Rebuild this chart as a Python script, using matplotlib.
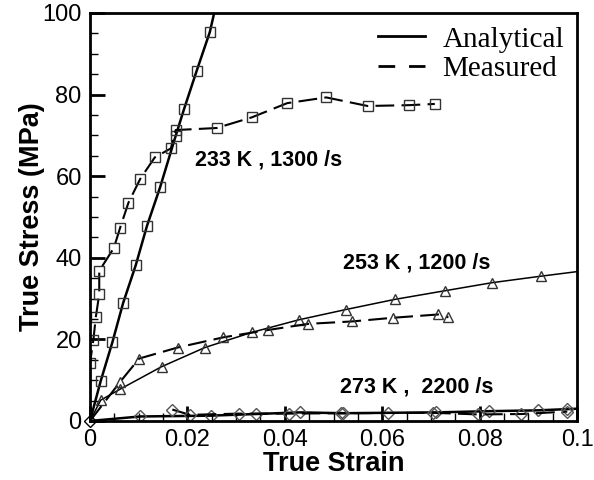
import matplotlib
matplotlib.use("Agg")
import matplotlib.pyplot as plt
from matplotlib.lines import Line2D
from matplotlib.ticker import MultipleLocator

# 233 K, 1300 /s
an233_x = [0, 0.0022, 0.0046, 0.0068, 0.0094, 0.0117, 0.0144, 0.0176, 0.0193, 0.0219, 0.0246, 0.0256]
an233_y = [0, 9.8, 19.3, 28.9, 38.2, 47.8, 57.3, 69.9, 76.4, 85.8, 95.3, 100.5]
me233_x = [0, 0, 0.0007, 0.0012, 0.0019, 0.0019, 0.0049, 0.0062, 0.0079, 0.0103, 0.0133, 0.0166,
           0.0176, 0.026, 0.0332, 0.0405, 0.0485, 0.057, 0.0655, 0.0708]
me233_y = [0, 14.2, 19.9, 25.5, 31.1, 36.8, 42.4, 47.4, 53.5, 59.3, 64.6, 66.8,
           71.3, 71.8, 74.4, 77.9, 79.3, 77.2, 77.4, 77.7]

# 253 K, 1200 /s
an253_x = [0, 0.0022, 0.0062, 0.0147, 0.0236, 0.0332, 0.0429, 0.0525, 0.0626, 0.0728, 0.0826, 0.0927, 0.1]
an253_y = [0, 5.1, 7.8, 13.3, 18.0, 21.7, 24.8, 27.3, 29.8, 31.9, 33.9, 35.5, 36.6]
me253_x = [0, 0.0062, 0.0101, 0.018, 0.0274, 0.0366, 0.0448, 0.0539, 0.0623, 0.0715, 0.0736]
me253_y = [0, 9.6, 15.3, 18.0, 20.5, 22.3, 23.8, 24.4, 25.3, 26.1, 25.4]

# 273 K, 2200 /s
an273_x = [0, 0.0103, 0.0248, 0.034, 0.0431, 0.052, 0.0612, 0.071, 0.082, 0.092, 0.0979, 0.1]
an273_y = [0, 1.1, 1.3, 1.7, 2.1, 1.9, 2.0, 2.1, 2.4, 2.6, 2.9, 3.0]
me273_x = [0.0169, 0.0205, 0.0306, 0.0408, 0.0515, 0.0705, 0.0797, 0.0886, 0.098]
me273_y = [2.8, 1.5, 1.8, 1.8, 1.9, 2.0, 1.6, 1.7, 2.3]

labels = ["233 K , 1300 /s", "253 K , 1200 /s", "273 K ,  2200 /s"]
label_pos = [(0.0215, 64), (0.052, 38.7), (0.0514, 8.3)]

plt.rcParams["font.family"] = ["Liberation Sans", "DejaVu Sans"]

fig = plt.figure(figsize=(5.94, 4.8), dpi=100)
ax = fig.add_axes([0.1515, 0.123, 0.8199, 0.850])

mk = dict(markerfacecolor="none", markeredgecolor="#333333", markersize=7.5, markeredgewidth=1.0)
dash = (9, 3.5)

ax.plot(an233_x, an233_y, color="black", lw=1.8, marker="s", markevery=slice(1, -1), **mk)
ax.plot(me233_x, me233_y, color="black", lw=1.5, dashes=dash, marker="s", markevery=slice(1, None), **mk)
ax.plot(an253_x, an253_y, color="black", lw=1.1, marker="^", markevery=slice(1, -1), **mk)
ax.plot(me253_x, me253_y, color="black", lw=1.5, dashes=dash, marker="^", markevery=slice(1, None), **mk)
ax.plot(an273_x, an273_y, color="black", lw=1.8, marker="D", markevery=slice(1, -1),
        markerfacecolor="none", markeredgecolor="#555555", markersize=6, markeredgewidth=1.0)
ax.plot(me273_x, me273_y, color="black", lw=1.5, dashes=dash, marker="D",
        markerfacecolor="none", markeredgecolor="#555555", markersize=6, markeredgewidth=1.0)
ax.plot([0], [0], marker="D", color="black", markersize=6, markerfacecolor="none", clip_on=False)

for t, (x, y) in zip(labels, label_pos):
    ax.text(x, y, t, fontsize=15.5, fontweight="bold", ha="left", va="center")

ax.set_xlim(0, 0.1)
ax.set_ylim(0, 100)
ax.xaxis.set_major_locator(MultipleLocator(0.02))
ax.xaxis.set_minor_locator(MultipleLocator(0.005))
ax.yaxis.set_major_locator(MultipleLocator(20))
ax.yaxis.set_minor_locator(MultipleLocator(5))
ax.set_xticks([0, 0.02, 0.04, 0.06, 0.08, 0.1])
ax.set_xticklabels(["0", "0.02", "0.04", "0.06", "0.08", "0.1"])
ax.tick_params(which="major", direction="in", length=11, width=2, labelsize=17, pad=6)
ax.tick_params(which="minor", direction="in", length=6, width=1)
for s in ax.spines.values():
    s.set_linewidth(2)

ax.set_xlabel("True Strain", fontsize=19.5, fontweight="bold", labelpad=0)
ax.set_ylabel("True Stress (MPa)", fontsize=19.5, fontweight="bold", labelpad=-2)

handles = [Line2D([], [], color="black", lw=2),
           Line2D([], [], color="black", lw=2, dashes=(6, 5))]
ax.legend(handles, ["Analytical", "Measured"], loc="upper right", frameon=False,
          prop={"family": "Liberation Serif", "size": 21}, handlelength=1.6,
          borderaxespad=0.05, labelspacing=0.1, handletextpad=0.6)

fig.savefig("out.png", dpi=100)
